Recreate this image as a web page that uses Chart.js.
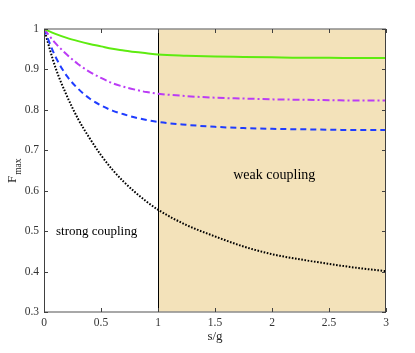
<!DOCTYPE html>
<html>
<head>
<meta charset="utf-8">
<script src="https://cdn.jsdelivr.net/npm/chart.js@4/dist/chart.umd.min.js"></script>
<style>
  body { margin: 0; background: #fff; }
  canvas { display: block; }
</style>
</head>
<body>
<canvas id="grafica" width="415" height="353"></canvas>
<script>
// --- Datos -----------------------------------------------------------------
const xs = [0, 0.1, 0.2, 0.3, 0.4, 0.5, 0.6, 0.7, 0.8, 0.9, 1.0, 1.25, 1.5, 1.75, 2.0, 2.25, 2.5, 2.75, 3.0];
const verde   = [1, 0.988, 0.978, 0.970, 0.963, 0.957, 0.951, 0.947, 0.943, 0.940, 0.937, 0.934, 0.932, 0.931, 0.930, 0.929, 0.929, 0.928, 0.928];
const magenta = [1, 0.965, 0.937, 0.913, 0.894, 0.879, 0.866, 0.857, 0.850, 0.844, 0.840, 0.834, 0.830, 0.828, 0.826, 0.825, 0.824, 0.823, 0.823];
const azul    = [1, 0.932, 0.884, 0.852, 0.828, 0.811, 0.798, 0.789, 0.781, 0.775, 0.770, 0.763, 0.758, 0.755, 0.753, 0.752, 0.751, 0.750, 0.750];
const negro   = [1, 0.905, 0.835, 0.777, 0.730, 0.688, 0.652, 0.622, 0.596, 0.573, 0.553, 0.515, 0.487, 0.462, 0.443, 0.430, 0.419, 0.409, 0.401];

const ticksX = [0, 0.5, 1, 1.5, 2, 2.5, 3];
const ticksY = [0.3, 0.4, 0.5, 0.6, 0.7, 0.8, 0.9, 1];
const zonaDebil = [1, 3];   // región sombreada (weak coupling)

const SERIF = '"Liberation Serif", "Times New Roman", serif';
const puntos = (ys) => xs.map((x, i) => ({ x, y: ys[i] }));

// --- Plugin: sombreado, marco, ticks hacia dentro y textos ------------------
const decoracion = {
  id: 'decoracion',
  beforeDatasetsDraw(chart) {
    const { ctx, chartArea: a, scales: { x } } = chart;
    const x0 = x.getPixelForValue(zonaDebil[0]);
    const x1 = x.getPixelForValue(zonaDebil[1]);
    ctx.save();
    ctx.fillStyle = '#F3E2BA';
    ctx.fillRect(x0, a.top, x1 - x0, a.bottom - a.top);
    ctx.strokeStyle = '#000';
    ctx.lineWidth = 1;
    ctx.beginPath();
    ctx.moveTo(Math.round(x0) + 0.5, a.top);
    ctx.lineTo(Math.round(x0) + 0.5, a.bottom);
    ctx.stroke();
    ctx.restore();
  },
  afterDatasetsDraw(chart) {
    const { ctx, chartArea: a, scales: { x, y } } = chart;
    ctx.save();
    // marco
    ctx.lineWidth = 1.5;
    ctx.strokeStyle = '#8c8c8c';
    ctx.beginPath();
    ctx.moveTo(a.left, a.top); ctx.lineTo(a.right, a.top);
    ctx.moveTo(a.left, a.bottom); ctx.lineTo(a.right, a.bottom);
    ctx.stroke();
    ctx.lineWidth = 1;
    ctx.strokeStyle = '#404040';
    ctx.beginPath();
    ctx.moveTo(a.left + 0.5, a.top); ctx.lineTo(a.left + 0.5, a.bottom);
    ctx.moveTo(a.right - 0.5, a.top); ctx.lineTo(a.right - 0.5, a.bottom);
    ctx.stroke();
    // ticks hacia dentro
    ctx.beginPath();
    ticksX.forEach((v) => {
      const px = Math.round(x.getPixelForValue(v)) + 0.5;
      ctx.moveTo(px, a.bottom); ctx.lineTo(px, a.bottom - 4);
      ctx.moveTo(px, a.top); ctx.lineTo(px, a.top + 4);
    });
    ticksY.forEach((v) => {
      const py = Math.round(y.getPixelForValue(v)) + 0.5;
      ctx.moveTo(a.left, py); ctx.lineTo(a.left + 4, py);
      ctx.moveTo(a.right, py); ctx.lineTo(a.right - 4, py);
    });
    ctx.stroke();

    // textos
    ctx.fillStyle = '#000';
    ctx.textBaseline = 'middle';
    ctx.textAlign = 'left';
    ctx.font = '13px ' + SERIF;
    ctx.fillText('strong coupling', x.getPixelForValue(0.105), y.getPixelForValue(0.5));
    ctx.textAlign = 'center';
    ctx.font = '14px ' + SERIF;
    ctx.fillText('weak coupling', x.getPixelForValue(2.02), y.getPixelForValue(0.638));

    // etiqueta eje x
    ctx.fillStyle = '#262626';
    ctx.font = '13px ' + SERIF;
    ctx.fillText('s/g', x.getPixelForValue(1.5), 337);

    // etiqueta eje y: F con subíndice max
    ctx.translate(16, 183);
    ctx.rotate(-Math.PI / 2);
    ctx.textAlign = 'left';
    ctx.textBaseline = 'alphabetic';
    ctx.font = '13px ' + SERIF;
    ctx.fillText('F', 0, 0);
    const anchoF = ctx.measureText('F').width;
    ctx.font = '9.5px ' + SERIF;
    ctx.fillText('max', anchoF + 1, 4.5);
    ctx.restore();
  },
};

new Chart(document.querySelector('#grafica'), {
  type: 'line',
  data: {
    datasets: [
      { data: puntos(verde),   borderColor: '#5EEB10', borderWidth: 2 },
      { data: puntos(magenta), borderColor: '#BB3CF5', borderWidth: 2, borderDash: [7, 3, 2, 3] },
      { data: puntos(azul),    borderColor: '#1F3CFF', borderWidth: 2, borderDash: [6, 4] },
      { data: puntos(negro),   borderColor: '#000000', borderWidth: 2, borderDash: [1.6, 1.6] },
    ],
  },
  options: {
    responsive: false,
    animation: false,
    layout: { padding: { left: 0, right: 29, top: 29, bottom: 0 } },
    elements: {
      point: { radius: 0 },
      line: { cubicInterpolationMode: 'monotone', fill: false },
    },
    plugins: { legend: { display: false }, tooltip: { enabled: false } },
    scales: {
      x: {
        type: 'linear', min: 0, max: 3,
        afterBuildTicks: (s) => { s.ticks = ticksX.map((v) => ({ value: v })); },
        afterFit: (s) => { s.height = 41; },
        ticks: {
          callback: (v) => String(v),
          font: { family: SERIF, size: 11.5 },
          color: '#333333',
          padding: 4,
          maxRotation: 0,
        },
        grid: { display: false, drawTicks: false },
        border: { display: false },
      },
      y: {
        min: 0.3, max: 1,
        afterBuildTicks: (s) => { s.ticks = ticksY.map((v) => ({ value: v })); },
        afterFit: (s) => { s.width = 44; },
        ticks: {
          callback: (v) => String(Number(v.toFixed(1))),
          font: { family: SERIF, size: 11.5 },
          color: '#333333',
          padding: 5,
        },
        grid: { display: false, drawTicks: false },
        border: { display: false },
      },
    },
  },
  plugins: [decoracion],
});
</script>
</body>
</html>
